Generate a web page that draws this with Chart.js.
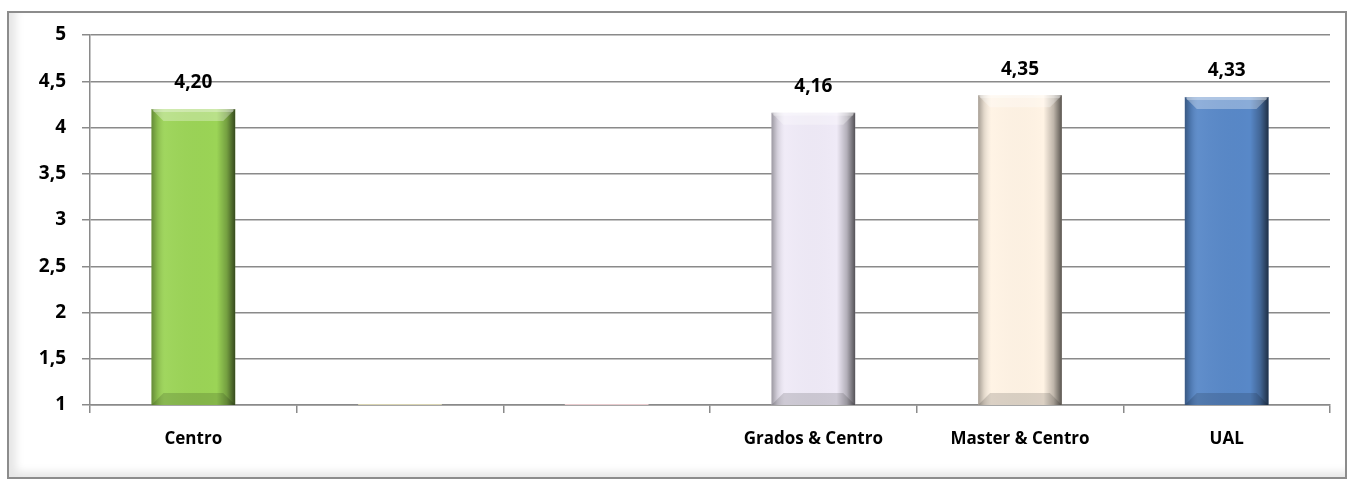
<!DOCTYPE html>
<html>
<head>
<meta charset="utf-8">
<script src="https://cdn.jsdelivr.net/npm/chart.js@4/dist/chart.umd.min.js"></script>
<style>
  html, body { margin: 0; padding: 0; background: #fff; }
  #frame {
    position: absolute; left: 7px; top: 11px; width: 1336px; height: 464px;
    border: 2px solid #8c8c8c;
    box-shadow: inset 7px -5px 8px rgba(0,0,0,0.10);
  }
  #wrap { position: absolute; left: 0; top: 0; width: 1350px; height: 481px; }
</style>
</head>
<body>
<div id="frame"></div>
<div id="wrap"><canvas id="chart" width="1350" height="481"></canvas></div>
<script>
const categories = ["Centro", "", "", "Grados & Centro", "Master & Centro", "UAL"];
const values = [4.20, 1.01, 1.01, 4.16, 4.35, 4.33];
const barColors = ["#9bd456", "#d9d4b2", "#e9cbce", "#efeaf7", "#fff3e4", "#5888c8"];
const yTicks = [1, 1.5, 2, 2.5, 3, 3.5, 4, 4.5, 5];

const labelFont = "'Open Sans', Lato, sans-serif";
const comma = v => String(v).replace(".", ",");

// bevel look like the Excel bars
const bevelPlugin = {
    id: "bevel",
    afterDatasetsDraw(chart) {
        const ctx = chart.ctx;
        const bottom = chart.chartArea.bottom;
        chart.getDatasetMeta(0).data.forEach(bar => {
            const p = bar.getProps(["x", "y", "base", "width"], true);
            const l = p.x - p.width / 2, r = p.x + p.width / 2;
            const t = p.y, b = Math.min(p.base, bottom), h = b - t;
            if (h < 4) return;
            const e = Math.min(12, h / 2);
            ctx.save();
            const g = ctx.createLinearGradient(l, 0, r, 0);
            g.addColorStop(0, "rgba(0,0,0,0.35)");
            g.addColorStop(0.07, "rgba(0,0,0,0.12)");
            g.addColorStop(0.16, "rgba(255,255,255,0.05)");
            g.addColorStop(0.78, "rgba(0,0,0,0)");
            g.addColorStop(0.9, "rgba(0,0,0,0.25)");
            g.addColorStop(1, "rgba(0,0,0,0.65)");
            ctx.fillStyle = g;
            ctx.fillRect(l, t, r - l, h);

            ctx.beginPath();
            ctx.moveTo(l, t); ctx.lineTo(r, t); ctx.lineTo(r - e, t + e); ctx.lineTo(l + e, t + e);
            ctx.closePath();
            ctx.fillStyle = "rgba(255,255,255,0.3)";
            ctx.fill();
            ctx.fillStyle = "rgba(255,255,255,0.3)";
            ctx.fillRect(l + 2, t, r - l - 4, 3);

            ctx.beginPath();
            ctx.moveTo(l, b); ctx.lineTo(r, b); ctx.lineTo(r - e, b - e); ctx.lineTo(l + e, b - e);
            ctx.closePath();
            ctx.fillStyle = "rgba(0,0,0,0.14)";
            ctx.fill();
            ctx.restore();
        });
    }
};

const valueLabels = {
    id: "valueLabels",
    afterDatasetsDraw(chart) {
        const ctx = chart.ctx;
        ctx.save();
        ctx.font = "bold 19px " + labelFont;
        ctx.fillStyle = "#000";
        ctx.textAlign = "center";
        ctx.textBaseline = "middle";
        chart.getDatasetMeta(0).data.forEach((bar, i) => {
            if (!categories[i]) return;
            ctx.fillText(values[i].toFixed(2).replace(".", ","), bar.x, bar.y - 26);
        });
        ctx.restore();
    }
};

new Chart(document.getElementById("chart"), {
    type: "bar",
    data: {
        labels: categories,
        datasets: [{
            data: values,
            backgroundColor: barColors,
            borderWidth: 0,
            barPercentage: 0.405,
            categoryPercentage: 1
        }]
    },
    options: {
        responsive: false,
        animation: false,
        layout: { padding: { left: 8, right: 20, top: 35, bottom: 0 } },
        plugins: { legend: { display: false }, tooltip: { enabled: false } },
        scales: {
            y: {
                min: 1, max: 5,
                afterFit: s => { s.width = 82; },
                afterBuildTicks: s => { s.ticks = yTicks.map(v => ({ value: v })); },
                ticks: {
                    callback: v => comma(v),
                    color: "#000",
                    font: { family: labelFont, size: 19, weight: "bold" },
                    padding: 16
                },
                grid: { color: "#8a8a8a", lineWidth: 1.5, tickLength: 8 },
                border: { color: "#8a8a8a", width: 1.5 }
            },
            x: {
                afterFit: s => { s.height = 76; },
                ticks: {
                    color: "#000",
                    font: { family: labelFont, size: 17, weight: "bold" },
                    padding: 16,
                    maxRotation: 0
                },
                grid: { offset: true, drawOnChartArea: false, color: "#8a8a8a", lineWidth: 1.5, tickLength: 8 },
                border: { color: "#8a8a8a", width: 1.5 }
            }
        }
    },
    plugins: [bevelPlugin, valueLabels]
});
</script>
</body>
</html>
